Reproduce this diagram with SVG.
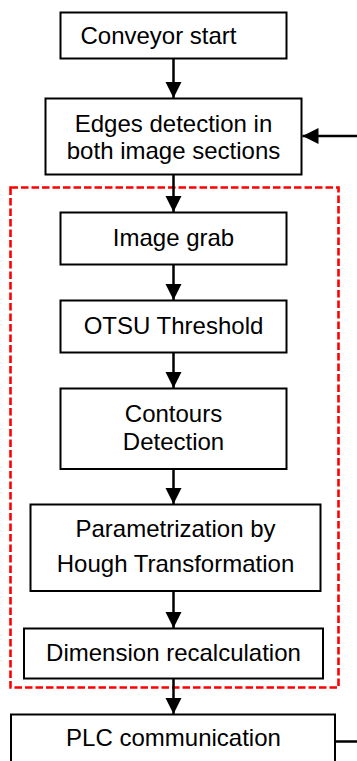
<svg xmlns="http://www.w3.org/2000/svg" width="357" height="761" viewBox="0 0 357 761">
  <style>
    .box { fill: #ffffff; stroke: #000000; stroke-width: 2; }
    .lbl { font-family: "Liberation Sans", Arial, sans-serif; font-size: 24px; fill: #000000; text-anchor: middle; }
    .edge { fill: none; stroke: #000000; stroke-width: 2.5; }
    .group-frame { fill: none; stroke: #ff0000; stroke-width: 2.6; stroke-dasharray: 7.5 3; }
  </style>
  <defs>
    <marker id="arrow" markerUnits="userSpaceOnUse" markerWidth="17" markerHeight="17" refX="16" refY="8" orient="auto">
      <path d="M0,0 L16,8 L0,16 Z" fill="#000000"/>
    </marker>
  </defs>
  <rect width="357" height="761" fill="#ffffff"/>

  <!-- image-processing stage frame -->
  <rect class="group-frame" x="10.5" y="187.5" width="328" height="500"/>

  <g id="connectors">
    <line class="edge" x1="173.5" y1="59" x2="173.5" y2="98" marker-end="url(#arrow)"/>
    <line class="edge" x1="173.5" y1="175" x2="173.5" y2="212" marker-end="url(#arrow)"/>
    <line class="edge" x1="173.5" y1="265" x2="173.5" y2="300" marker-end="url(#arrow)"/>
    <line class="edge" x1="173.5" y1="353" x2="173.5" y2="388" marker-end="url(#arrow)"/>
    <line class="edge" x1="173.5" y1="469" x2="173.5" y2="504" marker-end="url(#arrow)"/>
    <line class="edge" x1="173.5" y1="591" x2="173.5" y2="628" marker-end="url(#arrow)"/>
    <line class="edge" x1="173.5" y1="679" x2="173.5" y2="714" marker-end="url(#arrow)"/>
    <line class="edge" x1="357" y1="136" x2="302.5" y2="136" marker-end="url(#arrow)"/>
    <line class="edge" x1="335" y1="741.5" x2="357" y2="741.5"/>
  </g>

  <g id="conveyor-start">
    <rect class="box" x="60.5" y="12.5" width="226" height="46"/>
    <text class="lbl" x="158.5" y="43.5">Conveyor start</text>
  </g>

  <g id="edges-detection">
    <rect class="box" x="45.5" y="98.5" width="256" height="76"/>
    <text class="lbl" x="173.5" y="131.5">Edges detection in</text>
    <text class="lbl" x="173.5" y="158.5">both image sections</text>
  </g>

  <g id="image-grab">
    <rect class="box" x="60.5" y="212.5" width="226" height="52"/>
    <text class="lbl" x="173.5" y="246">Image grab</text>
  </g>

  <g id="otsu-threshold">
    <rect class="box" x="60.5" y="300.5" width="226" height="52"/>
    <text class="lbl" x="173.5" y="333.5">OTSU Threshold</text>
  </g>

  <g id="contours-detection">
    <rect class="box" x="60.5" y="388.5" width="226" height="80.5"/>
    <text class="lbl" x="173.5" y="421.5">Contours</text>
    <text class="lbl" x="173.5" y="449.5">Detection</text>
  </g>

  <g id="hough-parametrization">
    <rect class="box" x="30.5" y="504.5" width="290" height="86.5"/>
    <text class="lbl" x="175.5" y="537">Parametrization by</text>
    <text class="lbl" x="175.5" y="572">Hough Transformation</text>
  </g>

  <g id="dimension-recalculation">
    <rect class="box" x="24" y="628.5" width="299" height="50"/>
    <text class="lbl" x="173.5" y="661">Dimension recalculation</text>
  </g>

  <g id="plc-communication">
    <rect class="box" x="11" y="714.5" width="324" height="60"/>
    <text class="lbl" x="173.5" y="746">PLC communication</text>
  </g>
</svg>
